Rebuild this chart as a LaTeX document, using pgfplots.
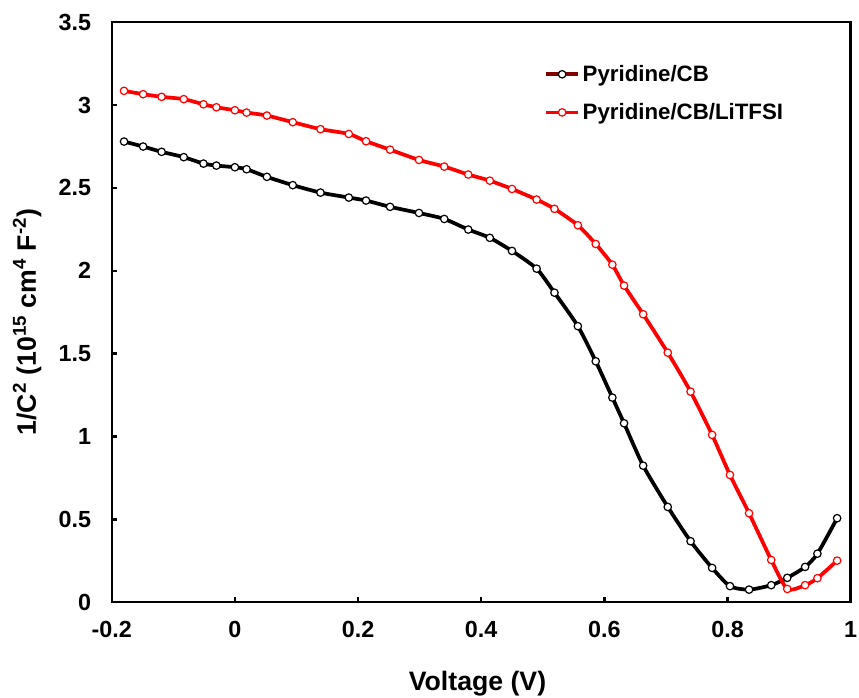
\documentclass[border=0pt]{standalone}
\usepackage{fontspec}
\setmainfont{Liberation Sans}
\usepackage{pgfplots}
\pgfplotsset{compat=1.18}
\definecolor{maroon}{RGB}{128,0,0}
\begin{document}
\begin{tikzpicture}
\begin{axis}[
  at={(0,0)}, anchor=south west,
  width=554.25pt, height=435pt, scale only axis,
  xmin=-0.2, xmax=1, ymin=0, ymax=3.5,
  xtick={-0.2,0,0.2,0.4,0.6,0.8,1},
  xticklabels={-0.2,0,0.2,0.4,0.6,0.8,1},
  ytick={0,0.5,1,1.5,2,2.5,3,3.5},
  yticklabels={0,0.5,1,1.5,2,2.5,3,3.5},
  tick pos=left, tick align=inside,
  major tick length=4pt,
  every tick/.style={black, line width=1.8pt},
  axis line style={line width=1.8pt},
  ticklabel style={font=\bfseries\fontsize{17.5}{20}\selectfont},
  xticklabel style={yshift=-11pt},
  yticklabel style={xshift=-12pt},
  xlabel={Voltage (V)},
  ylabel={1/C\textsuperscript{2} (10\textsuperscript{15} cm\textsuperscript{4} F\textsuperscript{-2})},
  label style={font=\bfseries\fontsize{20}{24}\selectfont},
  xlabel style={at={(axis description cs:0.495,-0.140)}, anchor=center},
  ylabel style={at={(axis description cs:-0.1146,0.483)}, anchor=center},
  legend style={draw=none, fill=none, at={(axis description cs:0.585,0.931)}, anchor=north west,
    font=\bfseries\fontsize{16.7}{20}\selectfont, row sep=11pt, inner sep=0pt,
    /tikz/every even column/.append style={column sep=1pt}},
  legend cell align=left,
]
\addplot[black, line width=2.8pt, smooth, tension=0.4, mark=*, mark size=2.8pt,
  mark options={fill=white, draw=black, line width=0.9pt},
  legend image code/.code={\draw[line width=2.8pt, maroon] (0pt,0pt) -- (24pt,0pt);
    \draw[black, fill=white, line width=0.9pt] (12pt,0pt) circle (2.8pt);}]
coordinates {
(-0.180,2.780) (-0.149,2.750) (-0.119,2.718) (-0.083,2.686) (-0.051,2.647)
(-0.030,2.635) (0.000,2.625) (0.019,2.613) (0.052,2.567) (0.094,2.517)
(0.139,2.472) (0.185,2.442) (0.213,2.424) (0.252,2.386) (0.299,2.349)
(0.340,2.313) (0.379,2.249) (0.414,2.199) (0.450,2.120) (0.490,2.013)
(0.519,1.868) (0.557,1.666) (0.586,1.454) (0.613,1.235) (0.632,1.080)
(0.663,0.824) (0.703,0.575) (0.740,0.368) (0.775,0.207) (0.804,0.097)
(0.835,0.076) (0.871,0.103) (0.897,0.147) (0.926,0.213) (0.946,0.293)
(0.978,0.507)
};
\addlegendentry{Pyridine/CB}
\addplot[red, line width=2.8pt, smooth, tension=0.4, mark=*, mark size=2.8pt,
  mark options={fill=white, draw=red, line width=0.9pt},
  legend image code/.code={\draw[line width=2.8pt, red] (0pt,0pt) -- (24pt,0pt);
    \draw[red, fill=white, line width=0.9pt] (12pt,0pt) circle (2.8pt);}]
coordinates {
(-0.180,3.086) (-0.149,3.066) (-0.119,3.050) (-0.083,3.036) (-0.051,3.005)
(-0.030,2.987) (0.000,2.969) (0.019,2.955) (0.052,2.937) (0.094,2.897)
(0.139,2.855) (0.185,2.826) (0.213,2.782) (0.252,2.731) (0.299,2.669)
(0.340,2.629) (0.379,2.581) (0.414,2.544) (0.450,2.494) (0.490,2.430)
(0.519,2.374) (0.557,2.275) (0.586,2.162) (0.613,2.037) (0.632,1.911)
(0.663,1.738) (0.703,1.506) (0.740,1.271) (0.775,1.010) (0.804,0.768)
(0.835,0.537) (0.871,0.255) (0.897,0.080) (0.926,0.103) (0.946,0.145)
(0.978,0.251)
};
\addlegendentry{Pyridine/CB/LiTFSI}
\end{axis}
\pgfresetboundingbox
\useasboundingbox (-83.8pt,-71.8pt) rectangle (560.5pt,451.7pt);
\end{tikzpicture}
\end{document}
